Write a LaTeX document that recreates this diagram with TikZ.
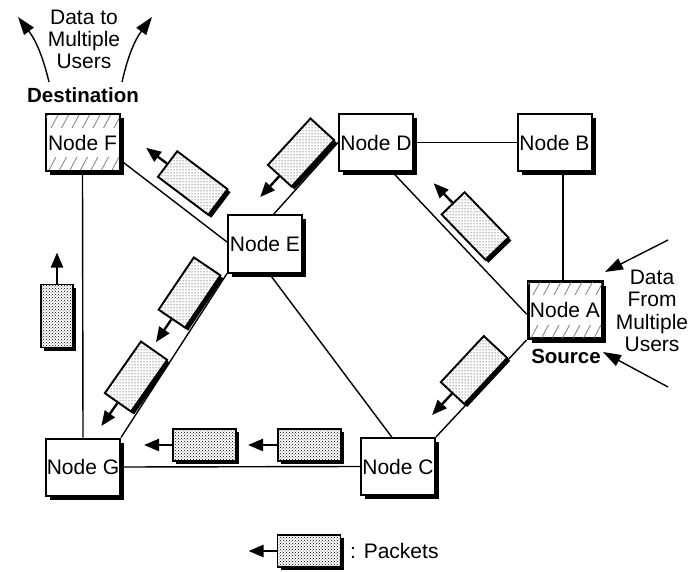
\documentclass[tikz,border=0pt]{standalone}
\usepackage{fontspec}
\setmainfont{Liberation Sans}
\usetikzlibrary{calc,arrows.meta,patterns,shadows}
\newcommand\packet[6][]{%
  \node[pkt, rotate=#5, #1] (#2) at (#3,#4) {};
  \coordinate (#2tip) at ($(#2.west)!-#6pt!(#2.center)$);
  \draw[pktarrow] (#2.west) -- (#2tip);
}
\newcommand\hatchbox[1]{%
  \begin{scope}
    \clip ([shift={(1.5,-1.5)}]#1.north west) rectangle ([shift={(-1.5,-16)}]#1.north east);
    \foreach \i in {0,...,7} \draw[hatch] ($(#1.north west)+(\i*10.5-4,-15)$) -- ++(7,13);
  \end{scope}
  \begin{scope}
    \clip ([shift={(1.5,17)}]#1.south west) rectangle ([shift={(-1.5,1.5)}]#1.south east);
    \foreach \i in {0,...,7} \draw[hatch] ($(#1.south west)+(\i*10.5-6,2)$) -- ++(7,13);
  \end{scope}
}
\begin{document}
\begin{tikzpicture}[x=1pt,y=1pt,
  netnode/.style={draw, line width=2pt, fill=white, minimum width=74pt, minimum height=57pt,
    inner sep=0pt, font=\fontsize{21}{23}\selectfont,
    drop shadow={shadow xshift=4pt, shadow yshift=-4pt, opacity=1, fill=black}},
  link/.style={line width=1.4pt},
  pkt/.style={draw, line width=1.9pt, minimum width=63pt, minimum height=32pt, inner sep=0pt,
    drop shadow={shadow xshift=3pt, shadow yshift=-3pt, opacity=1, fill=black},
    preaction={fill=white}, pattern=dots},
  pktarrow/.style={line width=2.4pt, -{Triangle[length=15pt,width=12pt]}},
  txt/.style={font=\fontsize{21}{22.3}\selectfont, align=center, inner sep=0pt},
  blabel/.style={font=\bfseries\fontsize{20.5}{22}\selectfont, inner sep=0pt},
  hatch/.style={draw=gray, line width=0.8pt},
  userarrow/.style={line width=1.4pt, -{Triangle[length=18pt,width=12pt]}}
]
\useasboundingbox (0,0) rectangle (688,-572);

% nodes
\node[netnode] (F) at (82.5,-142.5) {Node F};
\node[netnode] (D) at (376,-142.5) {Node D};
\node[netnode] (B) at (554.5,-142.5) {Node B};
\node[netnode] (E) at (265,-244) {Node E};
\node[netnode, line width=3pt] (A) at (565,-310) {Node A};
\node[netnode] (G) at (83,-467) {Node G};
\node[netnode] (C) at (398,-466.5) {Node C};
\hatchbox{F}
\hatchbox{A}

% links
\draw[link] (F.south) -- (G.north);
\draw[link] (F.-25) -- (E.177);
\draw[link] (D.west) -- (E.74);
\draw[link] (D.east) -- (B.west);
\draw[link] ([xshift=-2pt]A.north) -- ([xshift=-2pt]A.north |- B.south);
\draw[link] (D.-61) -- (A.186);
\draw[link] (C.north east) -- (A.south west);
\draw[link] (E.-82) -- (C.102);
\draw[link] (E.south west) -- (G.north east);
\draw[link] (G.east) -- (C.west);

% packets
\packet[pattern=crosshatch dots]{h1}{204.5}{-445}{0}{28}
\packet[pattern=crosshatch dots]{h2}{309.5}{-445}{0}{29}
\packet[pattern=crosshatch dots]{v1}{57}{-316}{-90}{31}
\packet{pFE}{192.75}{-183}{-37}{26}
\packet{pDE}{301}{-152.5}{47.5}{28}
\packet{pDA}{475}{-226}{-46}{27}
\packet{pCA}{474}{-370}{47}{29}
\packet{pEGa}{189.5}{-292.5}{56}{27.5}
\packet{pEGb}{136}{-376.5}{55}{28}
\packet[pattern=crosshatch dots]{leg}{309}{-551}{0}{28}

% labels
\node[txt] (dataout) at (84,-39.5) {Data to\\Multiple\\Users};
\node[blabel, anchor=base] (dest) at (83,-103) {Destination};
\node[txt] (datain) at (652,-311) {Data\\From\\Multiple\\Users};
\node[blabel, anchor=base] (src) at (566,-363) {Source};
\node[txt, anchor=base west] (legtxt) at (350,-558.5) {: Packets};

% user arrows
\coordinate (u1s) at (49,-82);
\coordinate (u1t) at (18,-17);
\coordinate (u2s) at (122,-82);
\coordinate (u2t) at (152,-17);
\draw[userarrow] (u1s) to[bend right=12] (u1t);
\draw[userarrow] (u2s) to[bend left=12] (u2t);
\coordinate (i1s) at (668,-240);
\coordinate (i1t) at (605,-272);
\coordinate (i2s) at (668,-387);
\coordinate (i2t) at (603,-352);
\draw[userarrow] (i1s) -- (i1t);
\draw[userarrow] (i2s) -- (i2t);
\end{tikzpicture}
\end{document}
